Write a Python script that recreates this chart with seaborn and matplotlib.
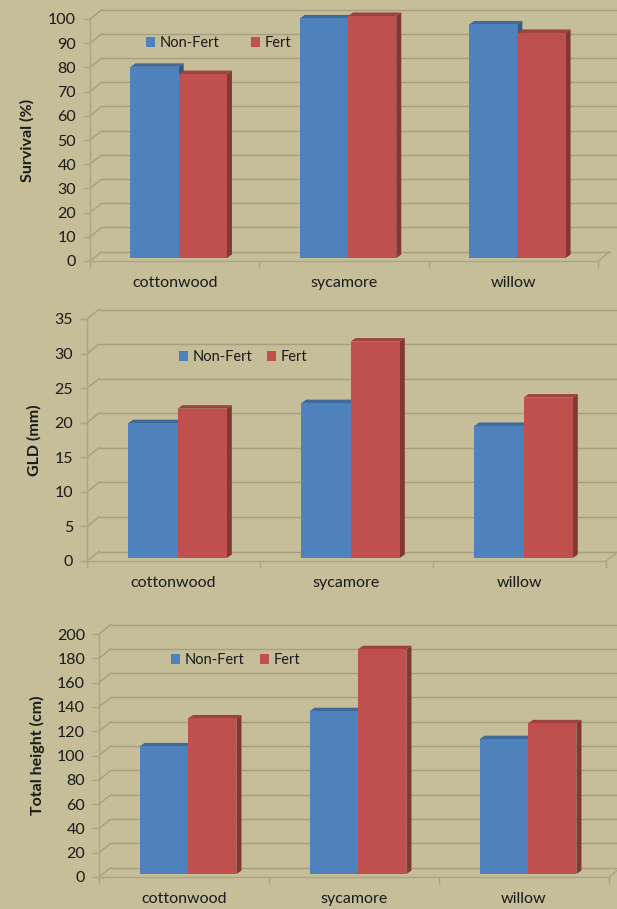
import numpy as np
import pandas as pd
import seaborn as sns
import matplotlib.pyplot as plt
from matplotlib.lines import Line2D
from matplotlib.patches import Polygon, Patch
from matplotlib.transforms import ScaledTranslation, IdentityTransform

# values
categories = ["cottonwood", "sycamore", "willow"]
series = ["Non-Fert", "Fert"]

survival_nonfert = [79, 99, 96.5]
survival_fert = [76, 100, 93]

gld_nonfert = [19.5, 22.4, 19.1]
gld_fert = [21.6, 31.3, 23.2]

height_nonfert = [105, 134, 111]
height_fert = [128, 185, 124]

survival_ticks = list(range(0, 101, 10))
gld_ticks = list(range(0, 36, 5))
height_ticks = list(range(0, 201, 20))

BG = "#C5BE98"
GRID = "#A69F80"
AXIS = "#A9A48C"
BLUE = "#4F81BD"
RED = "#C0504D"
TEXT = "#1A1A1A"

W, H = 617, 909
DPI = 100

sns.set_style("white")
plt.rcParams["font.family"] = ["Lato", "DejaVu Sans"]

fig = plt.figure(figsize=(W / DPI, H / DPI), dpi=DPI, facecolor=BG)


def px_rect(left, right, top, bottom):
    # pixel box (from top-left) -> figure fraction rect
    return [left / W, 1 - bottom / H, (right - left) / W, (bottom - top) / H]


def draw_panel(rect, nonfert, fert, ticks, ylabel, label_x, legend_xy, colspace):
    ax = fig.add_axes(px_rect(*rect))
    ax.set_facecolor("none")

    df = pd.DataFrame({
        "species": categories * 2,
        "group": [series[0]] * 3 + [series[1]] * 3,
        "value": nonfert + fert,
    })
    sns.barplot(data=df, x="species", y="value", hue="group", order=categories,
                hue_order=series, palette=[BLUE, RED], saturation=1, width=0.57,
                linewidth=0, errorbar=None, legend=False, ax=ax)

    ax.set_xlim(-0.5, 2.5)
    ax.set_ylim(ticks[0], ticks[-1])
    ax.set_yticks(ticks)
    ax.set_xticks([0, 1, 2])
    ax.set_xticklabels(categories)
    ax.set_xticks([-0.5, 0.5, 1.5, 2.5], minor=True)
    ax.tick_params(axis="y", length=5, width=1, color=AXIS, pad=5,
                   labelsize=11.5, labelcolor=TEXT, left=True)
    ax.tick_params(axis="x", which="major", length=0, pad=11,
                   labelsize=11.5, labelcolor=TEXT)
    ax.tick_params(axis="x", which="minor", length=5, width=1, color=AXIS,
                   bottom=True, direction="out")
    for s in ["top", "right"]:
        ax.spines[s].set_visible(False)
    for s in ["left", "bottom"]:
        ax.spines[s].set_color(AXIS)
        ax.spines[s].set_linewidth(1)
    ax.set_xlabel("")
    ax.set_ylabel(ylabel, fontsize=11.5, fontweight="bold", color=TEXT)
    ax.yaxis.set_label_coords((label_x - rect[0]) / (rect[1] - rect[0]), 0.5)

    # back wall / floor in pseudo 3D
    wx, wy = 12, 9.5
    for v in ticks:
        x0, y0 = ax.transData.transform((-0.5, v))
        x1, _ = ax.transData.transform((2.5, v))
        xend = x1 + wx if v == ticks[0] else W
        ax.add_line(Line2D([x0 + wx, xend], [y0 + wy, y0 + wy], color=GRID,
                           lw=1, transform=IdentityTransform(), clip_on=False,
                           zorder=0.5))
        ax.add_line(Line2D([x0, x0 + wx], [y0, y0 + wy], color=GRID, lw=1,
                           transform=IdentityTransform(), clip_on=False,
                           zorder=0.5))
    xr, yr = ax.transData.transform((2.5, ticks[0]))
    ax.add_line(Line2D([xr, xr + wx], [yr, yr + wy], color=AXIS, lw=1,
                       transform=IdentityTransform(), clip_on=False, zorder=0.5))

    # bar depth: side and top faces
    sx, sy = 4, 3
    dx, dy = 5, 3.5
    shift = ScaledTranslation(sx / DPI, sy / DPI, fig.dpi_scale_trans)
    bars = list(ax.patches)
    for p in bars:
        x, w, h = p.get_x(), p.get_width(), p.get_height()
        fc = np.array(p.get_facecolor()[:3])
        br = ax.transData.transform((x + w, 0)) + (sx, sy)
        tl = ax.transData.transform((x, h)) + (sx, sy)
        tr = ax.transData.transform((x + w, h)) + (sx, sy)
        d = np.array([dx, dy])
        side = Polygon([br, tr, tr + d, br + d], closed=True, facecolor=fc * 0.68,
                       edgecolor="none", transform=IdentityTransform(),
                       clip_on=False, zorder=1.5)
        top = Polygon([tl, tr, tr + d, tl + d], closed=True, facecolor=fc * 0.82,
                      edgecolor="none", transform=IdentityTransform(),
                      clip_on=False, zorder=2)
        ax.add_patch(side)
        ax.add_patch(top)
        p.set_transform(ax.transData + shift)
        p.set_zorder(3)
        p.set_clip_on(False)

    handles = [Patch(facecolor=BLUE, edgecolor="none"),
               Patch(facecolor=RED, edgecolor="none")]
    ax.legend(handles, series, ncol=2, loc="center left",
              bbox_to_anchor=(legend_xy[0] / W, 1 - legend_xy[1] / H),
              bbox_transform=fig.transFigure, frameon=False, fontsize=10.5,
              borderpad=0, borderaxespad=0, handlelength=0.62, handleheight=0.75,
              handletextpad=0.3, columnspacing=colspace, labelcolor=TEXT)
    ax.set_xlim(-0.5, 2.5)
    ax.set_ylim(ticks[0], ticks[-1])
    return ax


draw_panel((90, 598, 19, 261), survival_nonfert, survival_fert, survival_ticks,
           "Survival (%)", 35, (146, 43), 2.2)
draw_panel((87, 606, 319, 561), gld_nonfert, gld_fert, gld_ticks,
           "GLD (mm)", 42, (179, 357), 1.0)
draw_panel((99, 609, 634, 877), height_nonfert, height_fert, height_ticks,
           "Total height (cm)", 45, (171, 660), 1.1)

fig.savefig("out.png", dpi=DPI, facecolor=BG)
